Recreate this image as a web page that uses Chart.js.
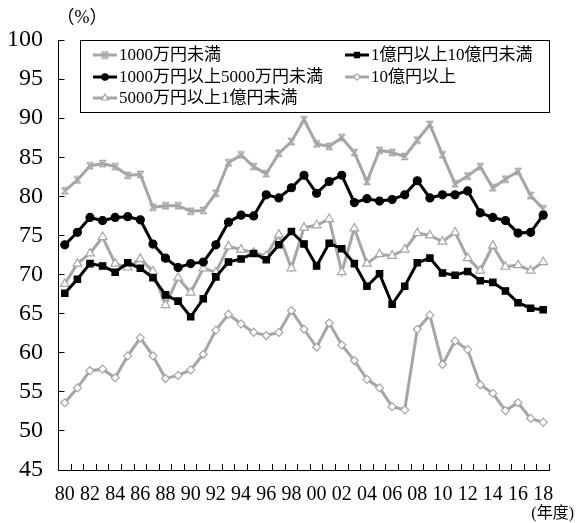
<!DOCTYPE html>
<html>
<head>
<meta charset="utf-8">
<script src="https://cdn.jsdelivr.net/npm/chart.js@4/dist/chart.umd.min.js"></script>
<style>
  body { margin: 0; background: #fff; }
  #wrap { width: 576px; height: 523px; }
</style>
</head>
<body>
<div id="wrap"><canvas id="chart" width="576" height="523"></canvas></div>
<script>
const years = ['80','81','82','83','84','85','86','87','88','89',
               '90','91','92','93','94','95','96','97','98','99',
               '00','01','02','03','04','05','06','07','08','09',
               '10','11','12','13','14','15','16','17','18'];

// 1000万円未満
const under10m = [80.7, 82.1, 83.9, 84.2, 83.8, 82.7, 82.8, 78.6, 78.8, 78.8,
                  78.1, 78.2, 80.4, 84.3, 85.3, 83.8, 82.9, 85.5, 87.0, 89.8,
                  86.7, 86.4, 87.5, 85.6, 81.9, 85.9, 85.6, 85.1, 87.2, 89.2,
                  85.3, 81.6, 82.6, 83.8, 81.1, 82.2, 83.2, 80.1, 78.4];
// 1000万円以上5000万円未満
const from10mTo50m = [73.8, 75.4, 77.3, 76.9, 77.3, 77.4, 77.0, 73.9, 72.1, 70.9,
                      71.4, 71.6, 73.8, 76.7, 77.6, 77.5, 80.2, 79.8, 81.1, 82.7,
                      80.4, 81.9, 82.7, 79.2, 79.7, 79.4, 79.6, 80.2, 82.0, 79.8,
                      80.2, 80.2, 80.7, 77.9, 77.3, 76.9, 75.3, 75.4, 77.6];
// 5000万円以上1億円未満
const from50mTo100m = [68.8, 71.4, 72.7, 74.8, 71.4, 70.9, 72.0, 70.4, 66.1, 69.6,
                       67.7, 70.8, 70.3, 73.6, 73.2, 72.8, 72.4, 75.1, 70.8, 76.0,
                       76.3, 77.1, 70.3, 75.9, 71.4, 72.6, 72.4, 73.2, 75.3, 75.0,
                       74.2, 75.4, 72.1, 70.5, 73.7, 71.0, 71.2, 70.5, 71.6];
// 1億円以上10億円未満
const from100mTo1b = [67.6, 69.4, 71.4, 71.1, 70.3, 71.5, 70.8, 69.6, 67.4, 66.6,
                      64.6, 66.9, 69.7, 71.6, 72.0, 72.7, 71.9, 73.8, 75.5, 73.9,
                      71.1, 74.0, 73.3, 71.4, 68.5, 70.1, 66.2, 68.5, 71.5, 72.1,
                      70.2, 69.9, 70.4, 69.2, 69.0, 67.9, 66.4, 65.7, 65.5];
// 10億円以上
const over1b = [53.6, 55.5, 57.7, 57.9, 56.8, 59.6, 61.9, 59.6, 56.7, 57.1,
                57.8, 59.8, 62.9, 64.9, 63.7, 62.6, 62.2, 62.6, 65.4, 63.0,
                60.7, 63.8, 61.0, 59.0, 56.6, 55.5, 53.1, 52.7, 63.0, 64.8,
                58.5, 61.5, 60.4, 55.9, 54.8, 52.6, 53.6, 51.6, 51.1];

const GRAY = '#a6a6a6';
const FONT = "'Liberation Serif', 'Noto Sans CJK JP', serif";

// hourglass-like marker for the 1000万円未満 line
const hourglass = document.createElement('canvas');
hourglass.width = 9;
hourglass.height = 9;
(() => {
    const c = hourglass.getContext('2d');
    c.strokeStyle = GRAY;
    c.lineWidth = 1.4;
    c.beginPath();
    c.moveTo(1, 1.5); c.lineTo(8, 1.5);
    c.moveTo(1, 7.5); c.lineTo(8, 7.5);
    c.moveTo(1.5, 1.5); c.lineTo(7.5, 7.5);
    c.moveTo(7.5, 1.5); c.lineTo(1.5, 7.5);
    c.stroke();
})();

const series = (label, data, color, style, radius, fill, order) => ({
    label, data,
    borderColor: color,
    backgroundColor: fill,
    borderWidth: 3,
    pointStyle: style,
    pointRadius: radius,
    pointBorderColor: color,
    pointBackgroundColor: fill,
    pointBorderWidth: 1.2,
    tension: 0,
    order
});

const datasets = [
    series('1000万円未満', under10m, GRAY, hourglass, 4, GRAY, 2),
    series('1000万円以上5000万円未満', from10mTo50m, '#000', 'circle', 4, '#000', 0),
    series('5000万円以上1億円未満', from50mTo100m, GRAY, 'triangle', 5, '#fff', 1),
    series('1億円以上10億円未満', from100mTo1b, '#000', 'rect', 4.5, '#000', 0),
    series('10億円以上', over1b, GRAY, 'rectRot', 4, '#fff', 2)
];

// legend grid: [dataset index, column, row]
const legendLayout = [[0, 0, 0], [3, 1, 0], [1, 0, 1], [4, 1, 1], [2, 0, 2]];

const boxLegend = {
    id: 'boxLegend',
    afterDraw(chart) {
        const ctx = chart.ctx;
        const area = chart.chartArea;
        ctx.save();
        ctx.strokeStyle = '#000';
        ctx.lineWidth = 1;
        ctx.strokeRect(80.5, area.top + 0.5, 469, 72);
        ctx.font = '17px ' + FONT;
        ctx.textBaseline = 'middle';
        ctx.fillStyle = '#000';
        const colX = [93, 345];
        const rowY = [area.top + 15, area.top + 37, area.top + 58];
        legendLayout.forEach(([i, col, row]) => {
            const ds = chart.data.datasets[i];
            const x = colX[col], y = rowY[row];
            ctx.strokeStyle = ds.borderColor;
            ctx.lineWidth = 3;
            ctx.beginPath();
            ctx.moveTo(x, y);
            ctx.lineTo(x + 24, y);
            ctx.stroke();
            ctx.fillStyle = ds.pointBackgroundColor;
            ctx.strokeStyle = ds.pointBorderColor;
            ctx.lineWidth = 1.2;
            Chart.helpers.drawPoint(ctx, { pointStyle: ds.pointStyle, radius: ds.pointRadius * 0.8, rotation: 0, borderWidth: 1.2 }, x + 12, y);
            ctx.fillStyle = '#000';
            ctx.fillText(ds.label, x + 26, y + 1);
        });
        // unit labels
        ctx.font = '18px ' + FONT;
        ctx.textAlign = 'center';
        ctx.fillText('（%）', 82, 18);
        ctx.font = '16px ' + FONT;
        ctx.textAlign = 'right';
        ctx.fillText('(年度)', 574, 514);
        ctx.restore();
    }
};

new Chart(document.getElementById('chart'), {
    type: 'line',
    data: { labels: years, datasets },
    plugins: [boxLegend],
    options: {
        responsive: false,
        animation: false,
        layout: { padding: { top: 40, right: 26.5, left: 0, bottom: 0 } },
        plugins: { legend: { display: false }, tooltip: { enabled: false } },
        scales: {
            x: {
                offset: true,
                border: { color: '#000', width: 1 },
                grid: { offset: true, drawOnChartArea: false, drawTicks: true, tickLength: -6, color: '#000' },
                ticks: {
                    autoSkip: false,
                    maxRotation: 0,
                    padding: 19,
                    color: '#000',
                    font: { family: FONT, size: 20 },
                    callback: (v, i) => (i % 2 === 0 ? years[i] : '')
                },
                afterFit: (s) => { s.height = 53; }
            },
            y: {
                min: 45,
                max: 100,
                border: { color: '#000', width: 1 },
                grid: { drawOnChartArea: false, drawTicks: true, tickLength: -6, color: '#000' },
                ticks: {
                    stepSize: 5,
                    padding: 21.5,
                    color: '#000',
                    font: { family: FONT, size: 24 }
                },
                afterFit: (s) => { s.width = 58.5; }
            }
        }
    }
});
</script>
</body>
</html>
